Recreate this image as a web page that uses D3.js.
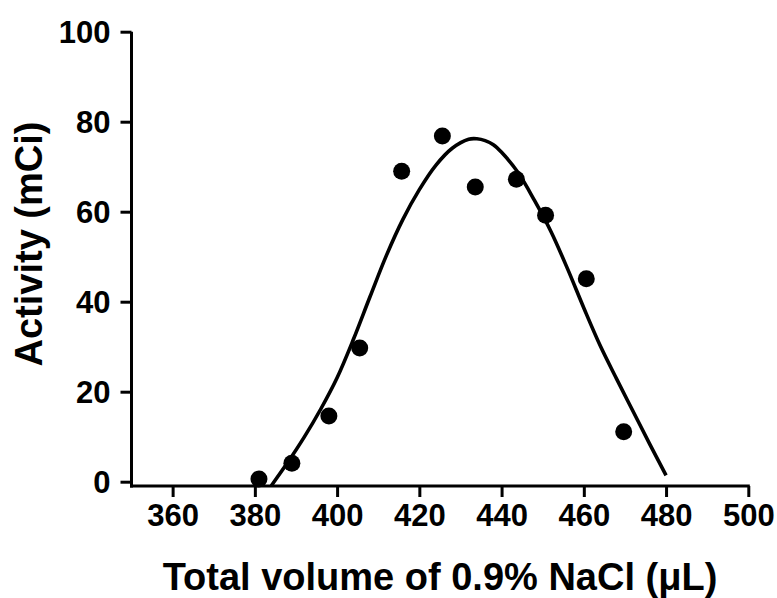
<!DOCTYPE html>
<html>
<head>
<meta charset="utf-8">
<script src="https://cdn.jsdelivr.net/npm/d3@7"></script>
<style>
  html, body { margin: 0; padding: 0; background: #fff; }
  svg { display: block; }
  .tick-label { font-family: "Liberation Sans", Arial, sans-serif; font-weight: bold; font-size: 31px; fill: #000; }
  .axis-title { font-family: "Liberation Sans", Arial, sans-serif; font-weight: bold; font-size: 38px; fill: #000; }
</style>
</head>
<body>
<svg id="chart" width="777" height="598"></svg>
<script>
// Measured activity vs. total saline volume
const volume   = [381, 389, 398, 405.5, 415.7, 425.6, 433.6, 443.6, 450.7, 460.6, 469.7];
const activity = [0.6, 4.1, 14.6, 29.7, 69.0, 76.8, 65.5, 67.2, 59.2, 45.1, 11.1];

// Fitted bell curve, sampled along its length
const fitVolume   = [384, 388, 392, 396, 400, 404, 408, 412, 416, 420, 424, 428, 432, 434, 436, 438, 440, 444, 448, 452, 456, 460, 464, 468, 472, 476, 480];
const fitActivity = [-0.9, 4.3, 9.9, 16.1, 23.1, 31.7, 41.1, 50.3, 58.3, 64.9, 70.3, 74.1, 76.1, 76.2, 75.8, 74.9, 73.2, 68.7, 62.5, 55.6, 47.4, 38.6, 30.2, 22.8, 15.6, 8.4, 1.4];

// Axis ticks
const xTicks = [360, 380, 400, 420, 440, 460, 480, 500];
const yTicks = [0, 20, 40, 60, 80, 100];

const svg = d3.select("#chart");

const x = d3.scaleLinear().domain([350, 500]).range([131.5, 748.3]);
const y = d3.scaleLinear().domain([0, 100]).range([481.7, 31.7]);
const xAxisY = 486;
const tickLen = 11;

// Y axis
const yAxis = d3.axisLeft(y).tickValues(yTicks).tickSize(tickLen).tickPadding(10).tickSizeOuter(0);
const gy = svg.append("g").attr("transform", `translate(${x.range()[0]},0)`).call(yAxis);
gy.select(".domain").remove();
gy.append("line")
  .attr("x1", 0).attr("x2", 0)
  .attr("y1", y(100)).attr("y2", xAxisY + 1.5)
  .attr("stroke", "#000").attr("stroke-width", 3);
gy.selectAll(".tick line").attr("stroke", "#000").attr("stroke-width", 3).attr("x2", -tickLen);
gy.selectAll(".tick text").attr("class", "tick-label").attr("dy", "0.36em");

// X axis
const xAxis = d3.axisBottom(x).tickValues(xTicks).tickSize(tickLen).tickPadding(7).tickSizeOuter(0);
const gx = svg.append("g").attr("transform", `translate(0,${xAxisY})`).call(xAxis);
gx.select(".domain").remove();
gx.append("line")
  .attr("x1", x.range()[0] - 1.5).attr("x2", x(500) + 1.5)
  .attr("y1", 0).attr("y2", 0)
  .attr("stroke", "#000").attr("stroke-width", 3);
gx.selectAll(".tick line").attr("stroke", "#000").attr("stroke-width", 3);
gx.selectAll(".tick text").attr("class", "tick-label").attr("dy", "0.71em");

// Fitted curve
const fitData = fitVolume.map((v, i) => [v, fitActivity[i]]);
const line = d3.line()
  .x(d => x(d[0]))
  .y(d => y(d[1]))
  .curve(d3.curveCatmullRom.alpha(0.5));
svg.append("path")
  .datum(fitData)
  .attr("d", line)
  .attr("fill", "none")
  .attr("stroke", "#000")
  .attr("stroke-width", 3.6)
  .attr("stroke-linejoin", "round");

// Data points
svg.append("g")
  .selectAll("circle")
  .data(volume.map((v, i) => [v, activity[i]]))
  .join("circle")
  .attr("cx", d => x(d[0]))
  .attr("cy", d => y(d[1]))
  .attr("r", 8.5)
  .attr("fill", "#000");

// Axis titles
svg.append("text")
  .attr("class", "axis-title")
  .attr("x", 440).attr("y", 590)
  .attr("text-anchor", "middle")
  .text("Total volume of 0.9% NaCl (μL)");

svg.append("text")
  .attr("class", "axis-title")
  .attr("transform", "translate(42,244) rotate(-90)")
  .attr("text-anchor", "middle")
  .text("Activity (mCi)");
</script>
</body>
</html>
